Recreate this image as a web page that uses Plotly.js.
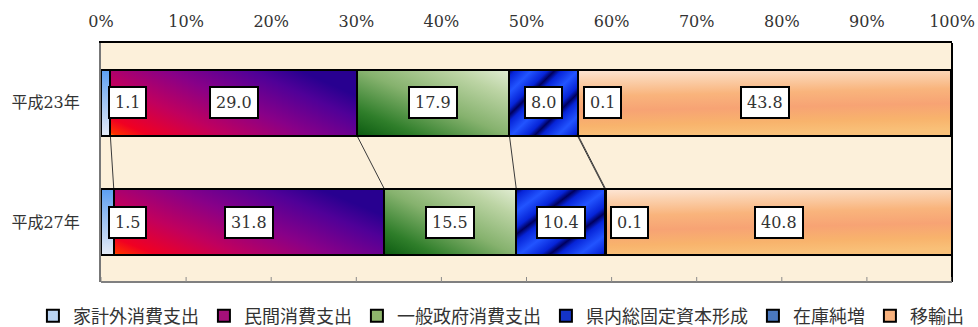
<!DOCTYPE html>
<html>
<head>
<meta charset="utf-8">
<script src="https://cdn.plot.ly/plotly-3.0.1.min.js"></script>
<style>
  html, body { margin: 0; padding: 0; background: #ffffff; }
  #chart { width: 978px; height: 327px; }
</style>
</head>
<body>
<div id="chart"></div>
<script>
// 県内総生産（支出側）の構成比（％）
const categories = ['平成23年', '平成27年'];
const seriesNames = ['家計外消費支出', '民間消費支出', '一般政府消費支出', '県内総固定資本形成', '在庫純増', '移輸出'];
const valuesH23 = [1.1, 29.0, 17.9, 8.0, 0.1, 43.8];
const valuesH27 = [1.5, 31.8, 15.5, 10.4, 0.1, 40.8];
const tickValues = [0, 10, 20, 30, 40, 50, 60, 70, 80, 90, 100];
const tickLabels = ['0%', '10%', '20%', '30%', '40%', '50%', '60%', '70%', '80%', '90%', '100%'];

// solid colours (legend swatches); the bars get gradient fills after drawing
const swatchColors = ['#b9d3f2', '#a4107a', '#8fb66c', '#1434c8', '#4a78bf', '#f8b27e'];

const serifFont = 'DejaVu Serif, Noto Sans CJK JP, serif';
const textColor = '#333333';
const barWidth = 0.556;

const rows = [valuesH23, valuesH27];

const traces = seriesNames.map((name, i) => ({
  type: 'bar',
  orientation: 'h',
  name: name,
  y: categories,
  x: rows.map(r => r[i]),
  width: barWidth,
  marker: { color: swatchColors[i], line: { color: '#000000', width: 2 } },
  hoverinfo: 'skip'
}));

// cumulative starts of each segment per row
function starts(row) {
  const s = [];
  let acc = 0;
  row.forEach(v => { s.push(acc); acc += v; });
  return s;
}

// value labels in boxed annotations
const annotations = [];
rows.forEach((row, r) => {
  const st = starts(row);
  row.forEach((v, i) => {
    const ann = {
      xref: 'x', yref: 'y',
      y: r,
      text: v.toFixed(1),
      showarrow: false,
      font: { family: serifFont, size: 16, color: textColor },
      bgcolor: '#ffffff',
      bordercolor: '#000000',
      borderwidth: 2,
      borderpad: 5
    };
    if (i === 0) {
      ann.x = st[i]; ann.xanchor = 'left'; ann.xshift = 7;
    } else if (i === 4) {
      ann.x = st[i]; ann.xanchor = 'left'; ann.xshift = 5;
    } else {
      ann.x = st[i] + v / 2; ann.xanchor = 'center';
    }
    annotations.push(ann);
  });
});

// connector lines between the two bars at each segment boundary
const shapes = [];
const s1 = starts(valuesH23), s2 = starts(valuesH27);
for (let i = 0; i < seriesNames.length - 1; i++) {
  shapes.push({
    type: 'line', xref: 'x', yref: 'y',
    x0: s1[i] + valuesH23[i], y0: 0 + barWidth / 2,
    x1: s2[i] + valuesH27[i], y1: 1 - barWidth / 2,
    line: { color: '#3a3a3a', width: 1 },
    layer: 'below'
  });
}
// frame: black right edge, grey bottom edge with short inward ticks
shapes.push({
  type: 'line', xref: 'paper', yref: 'paper',
  x0: 1, x1: 1, y0: 0, y1: 1,
  line: { color: '#000000', width: 2 }
});
shapes.push({
  type: 'line', xref: 'paper', yref: 'paper',
  x0: 0, x1: 1, y0: 0, y1: 0,
  line: { color: '#808080', width: 2 }
});
tickValues.forEach(t => {
  shapes.push({
    type: 'line', xref: 'x', yref: 'paper',
    ysizemode: 'pixel', yanchor: 0,
    x0: t, x1: t, y0: 0, y1: 5,
    line: { color: '#8a8a8a', width: 1 }
  });
});

const layout = {
  width: 978,
  height: 327,
  margin: { l: 101, r: 26, t: 43, b: 45, autoexpand: false },
  paper_bgcolor: '#ffffff',
  plot_bgcolor: '#fcf0da',
  barmode: 'stack',
  showlegend: true,
  font: { family: serifFont, size: 16, color: textColor },
  xaxis: {
    side: 'top',
    range: [0, 100],
    tickmode: 'array',
    tickvals: tickValues,
    ticktext: tickLabels,
    ticks: '',
    ticklabelstandoff: 8,
    showgrid: false,
    zeroline: false,
    showline: true,
    linecolor: '#000000',
    linewidth: 2,
    tickfont: { family: serifFont, size: 16, color: textColor },
    fixedrange: true
  },
  yaxis: {
    type: 'category',
    autorange: 'reversed',
    range: [1.5, -0.5],
    ticks: '',
    ticklabelstandoff: 16,
    showgrid: false,
    zeroline: false,
    showline: true,
    linecolor: '#777777',
    linewidth: 2,
    tickfont: { family: serifFont, size: 16, color: textColor },
    fixedrange: true
  },
  legend: {
    orientation: 'h',
    x: -0.08,
    xanchor: 'left',
    y: -0.142,
    yanchor: 'middle',
    traceorder: 'normal',
    bgcolor: 'rgba(0,0,0,0)',
    font: { family: serifFont, size: 18, color: textColor },
    itemclick: false,
    itemdoubleclick: false
  },
  annotations: annotations,
  shapes: shapes
};

// gradient fills for each series
const gradientDefs = [
  { id: 'gHousehold', type: 'linear', attrs: { x1: 0, y1: 0, x2: 0, y2: 1 },
    stops: [[0, '#5b9ef2'], [0.45, '#9cc2f2'], [1, '#e6ecf7']] },
  { id: 'gPrivate', type: 'linear', attrs: { x1: 0, y1: 1, x2: 1, y2: 0.4 },
    stops: [[0, '#ffa000'], [0.025, '#ff3000'], [0.12, '#f00022'], [0.35, '#c0005e'], [0.6, '#880088'], [0.85, '#500098'], [1, '#280090']] },
  { id: 'gGovt', type: 'linear', attrs: { x1: 0, y1: 1, x2: 1, y2: 0 },
    stops: [[0, '#0b5a10'], [0.2, '#2f7e2a'], [0.5, '#86b26e'], [0.8, '#bcd4a4'], [1, '#e2edd4']] },
  { id: 'gCapital', type: 'linear', attrs: { x1: 0, y1: 0, x2: 0.17, y2: 0.17, spreadMethod: 'reflect' },
    stops: [[0, '#00005e'], [0.3, '#0624d8'], [1, '#2254ff']] },
  { id: 'gStock', type: 'linear', attrs: { x1: 0, y1: 0, x2: 0, y2: 1 },
    stops: [[0, '#4a78bf'], [1, '#4a78bf']] },
  { id: 'gExport', type: 'linear', attrs: { x1: 0, y1: 0, x2: 0.12, y2: 1 },
    stops: [[0, '#fde6d6'], [0.16, '#fbd2b0'], [0.4, '#f9b47c'], [0.62, '#f7a374'], [0.84, '#f8b36c'], [1, '#f9c078']] }
];

const SVGNS = 'http://www.w3.org/2000/svg';

function applyGradients(gd) {
  const svg = gd.querySelector('svg.main-svg');
  let defs = svg.querySelector('defs');
  if (!defs) { defs = document.createElementNS(SVGNS, 'defs'); svg.insertBefore(defs, svg.firstChild); }
  gradientDefs.forEach(g => {
    const el = document.createElementNS(SVGNS, g.type === 'linear' ? 'linearGradient' : 'radialGradient');
    el.setAttribute('id', g.id);
    el.setAttribute('gradientUnits', 'objectBoundingBox');
    Object.keys(g.attrs).forEach(k => el.setAttribute(k, g.attrs[k]));
    g.stops.forEach(([off, col]) => {
      const st = document.createElementNS(SVGNS, 'stop');
      st.setAttribute('offset', off);
      st.setAttribute('stop-color', col);
      el.appendChild(st);
    });
    defs.appendChild(el);
  });
  const traceGroups = gd.querySelectorAll('.barlayer .trace');
  traceGroups.forEach((tg, i) => {
    tg.querySelectorAll('path').forEach(p => {
      p.style.fill = 'url(#' + gradientDefs[i].id + ')';
    });
  });
}

Plotly.newPlot('chart', traces, layout, { displayModeBar: false, staticPlot: true })
  .then(applyGradients);
</script>
</body>
</html>
